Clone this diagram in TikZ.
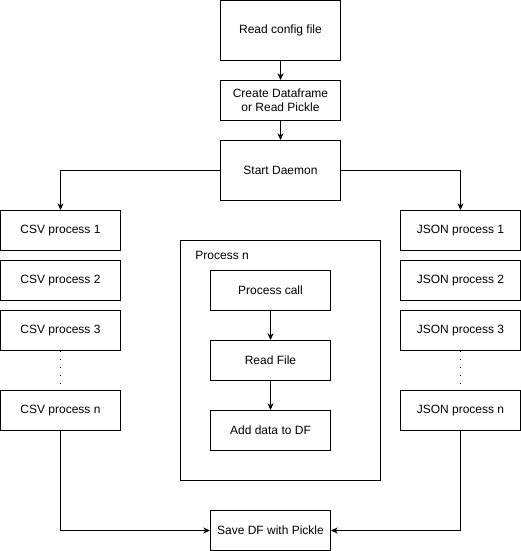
\documentclass[tikz,border=0pt]{standalone}
\usepackage{fontspec}
\setmainfont{Liberation Sans}
\usetikzlibrary{arrows,arrows.meta,positioning}

\begin{document}
\begin{tikzpicture}[
        x = 0.75pt, y = -0.75pt, % one unit is one pixel
        > = {Stealth[length=5pt, width=4.5pt, inset=1.5pt]}, % arrow head style
        line width = 0.75pt, % line style
        font = \fontsize{9}{10.5}\selectfont,
        node distance = 37.5pt % distance between stacked boxes
    ]

    \tikzstyle{box}=[
        draw = black,
        fill = white,
        align = center,
        inner sep = 0pt,
        minimum width = 90pt,
        minimum height = 30pt
    ]
    \tikzstyle{tallbox}=[box, minimum height = 45pt]
    \tikzstyle{dots}=[line width = 1.2pt, dash pattern = on 1pt off 5pt]

    \useasboundingbox (-0.5,-0.5) rectangle (520.5,550.5);

    \node[tallbox] (cfg) at (280,30) {Read config file};
    \node[box] (df) [below of=cfg, node distance=52.5pt] {Create Dataframe\\or Read Pickle};
    \node[tallbox] (daemon) [below of=df, node distance=52.5pt] {Start Daemon};

    \node[box] (csv1) at (60,230) {CSV process 1};
    \node[box] (csv2) [below of=csv1] {CSV process 2};
    \node[box] (csv3) [below of=csv2] {CSV process 3};
    \node[box] (csvn) [below of=csv3, node distance=60pt] {CSV process n};

    \node[box] (json1) at (460,230) {JSON process 1};
    \node[box] (json2) [below of=json1] {JSON process 2};
    \node[box] (json3) [below of=json2] {JSON process 3};
    \node[box] (jsonn) [below of=json3, node distance=60pt] {JSON process n};

    \node[draw, minimum width=150pt, minimum height=180pt] (procn) at (280,360) {};
    \node[anchor=west] (procnlabel) at (190,255) {Process n};
    \node[box] (call) at (270,290) {Process call};
    \node[box] (read) [below of=call, node distance=52.5pt] {Read File};
    \node[box] (add) [below of=read, node distance=52.5pt] {Add data to DF};

    \node[box] (save) at (270,530) {Save DF with Pickle};

    \draw[->] (cfg) -- (df);
    \draw[->] (df) -- (daemon);
    \draw[->] (daemon.west) -| (csv1.north);
    \draw[->] (daemon.east) -| (json1.north);
    \draw[dots] (csv3) -- (csvn);
    \draw[dots] (json3) -- (jsonn);
    \draw[->] (call) -- (read);
    \draw[->] (read) -- (add);
    \draw[->] (csvn.south) |- (save.west);
    \draw[->] (jsonn.south) |- (save.east);
\end{tikzpicture}
\end{document}
